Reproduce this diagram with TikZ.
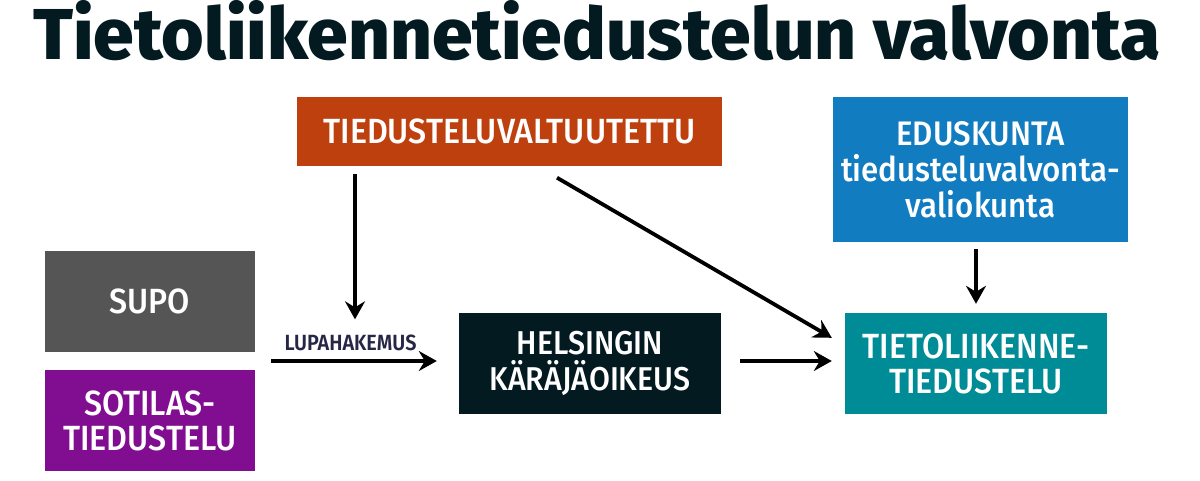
\documentclass[tikz,border=0pt]{standalone}
\usepackage{fontspec}
\usepackage{graphicx}
\setmainfont{Fira Sans}
\newfontfamily\boxfont[FakeStretch=0.92]{Fira Sans Medium}
\IfFontExistsTF{Fira Sans SemiBold}
  {\newfontfamily\labelfont[FakeStretch=0.9]{Fira Sans SemiBold}}
  {\newfontfamily\labelfont[FakeStretch=0.9]{Fira Sans Medium}}
\IfFontExistsTF{Fira Sans ExtraBold}
  {\newfontfamily\titlefont{Fira Sans ExtraBold}}
  {\newfontfamily\titlefont{Fira Sans Bold}}
\usetikzlibrary{arrows.meta,calc}
\definecolor{cTitle}{HTML}{021A20}
\definecolor{cOrange}{HTML}{BE400F}
\definecolor{cBlue}{HTML}{117CC0}
\definecolor{cGrey}{HTML}{555555}
\definecolor{cPurple}{HTML}{810E90}
\definecolor{cDark}{HTML}{021A20}
\definecolor{cTeal}{HTML}{008C96}
\definecolor{cLabel}{HTML}{262646}
\begin{document}
\begin{tikzpicture}[x=1pt,y=-1pt,
  box/.style={rectangle, inner sep=0pt, align=center, text=white,
    font=\boxfont\fontsize{35}{35}\selectfont},
  arr/.style={line width=3.8pt, draw=black,
    -{Stealth[length=18pt,width=20pt,inset=6pt]}}]
\useasboundingbox (0,0) rectangle (1200,480);
\node[anchor=base west, inner sep=0pt, text=cTitle] (title) at (33,59)
  {\resizebox{1127pt}{\height}{\titlefont\fontsize{72}{72}\selectfont Tietoliikennetiedustelun valvonta}};
\node[box, fill=cOrange, minimum width=425pt, minimum height=69pt] (tv) at (509.5,131) {TIEDUSTELUVALTUUTETTU};
\node[box, fill=cBlue, minimum width=295pt, minimum height=145pt,
  font=\boxfont\fontsize{34}{36}\selectfont] (ed) at (980.5,169.5) {EDUSKUNTA\\tiedusteluvalvonta-\\valiokunta};
\node[box, fill=cGrey, minimum width=210pt, minimum height=101pt] (supo) at (150,301.5) {SUPO};
\node[box, fill=cPurple, minimum width=210pt, minimum height=101pt] (sot) at (150,420.5) {SOTILAS-\\TIEDUSTELU};
\node[box, fill=cDark, minimum width=262pt, minimum height=101pt,
  font=\boxfont\fontsize{33}{36}\selectfont] (hk) at (590,363.5) {HELSINGIN\\KÄRÄJÄOIKEUS};
\node[box, fill=cTeal, minimum width=262pt, minimum height=101pt] (tl) at (976,363.5) {TIETOLIIKENNE-\\TIEDUSTELU};
\node[inner sep=0pt, text=cLabel, font=\labelfont\fontsize{22}{22}\selectfont] (lup) at (350.5,342.5) {LUPAHAKEMUS};
\coordinate (src) at ($(supo.south east)!0.5!(sot.north east)$);
\coordinate (hkE) at ($(hk.east)+(0,-2.5)$);
\draw[arr, shorten <=8.5pt, shorten >=15pt] ($(tv.south -| lup.north)+(4.5,0)$) -- ($(lup.north)+(4.5,0)$);
\draw[arr] ($(tv.south)+(47.5,12)$) -- ($(tl.north west)+(-13,25)$);
\draw[arr, shorten <=16pt, shorten >=22pt] (src) -- (src -| hk.west);
\draw[arr, shorten <=19pt, shorten >=13pt] (hkE) -- (hkE -| tl.west);
\draw[arr, shorten <=7pt, shorten >=9pt] (ed.south -| tl.north) -- (tl.north);
\end{tikzpicture}
\end{document}
